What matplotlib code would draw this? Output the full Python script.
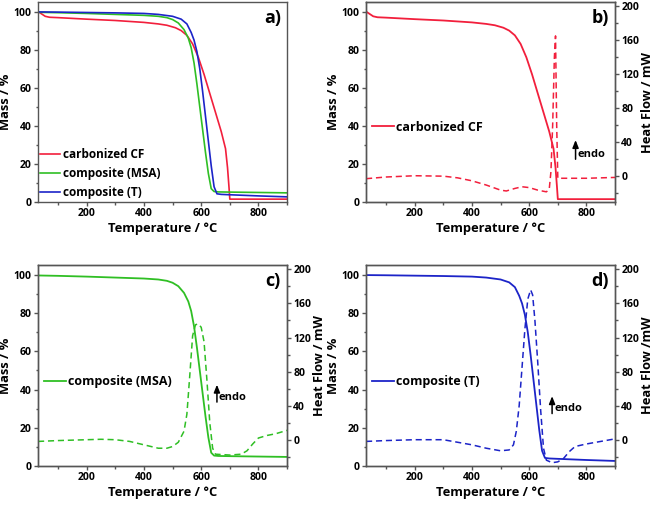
import numpy as np
import matplotlib.pyplot as plt
from matplotlib.ticker import MultipleLocator

plt.rcParams['font.family'] = ['Open Sans', 'DejaVu Sans']
plt.rcParams['font.weight'] = 'bold'

# TGA mass curves (Mass / %)
cf_T = [30, 40, 55, 70, 100, 200, 300, 400, 450, 480, 510, 530, 550, 570, 590, 610, 630, 650,
        670, 685, 692, 697, 700, 800, 900]
cf_m = [100, 99, 97.5, 97, 96.8, 96, 95.3, 94.3, 93.5, 92.8, 91.5, 90, 87.5, 83, 76, 67, 57, 47,
        37, 28, 18, 8, 1.5, 1.5, 1.5]

msa_T = [30, 100, 200, 300, 400, 450, 480, 500, 520, 540, 555, 565, 575, 585, 595, 605, 615, 625,
         635, 645, 660, 700, 800, 900]
msa_m = [99.6, 99.4, 99.0, 98.5, 98.0, 97.5, 96.8, 95.8, 94, 90.5, 86, 81, 73, 62, 50, 38, 26, 15,
         7, 5.5, 5.3, 5.2, 5.0, 4.8]

t_T = [30, 100, 200, 300, 400, 450, 500, 530, 550, 565, 575, 585, 595, 605, 615, 625, 635, 645,
       655, 670, 700, 800, 900]
t_m = [99.8, 99.7, 99.5, 99.3, 99.0, 98.5, 97.5, 96, 93.5, 89, 85, 79, 70, 58, 45, 32, 19, 8,
       4.3, 4.0, 3.8, 3.2, 2.7]

# DSC heat flow curves (Heat Flow / mW)
cf_hT = [30, 100, 200, 300, 350, 400, 450, 500, 520, 550, 575, 600, 630, 660, 670, 676, 682, 688,
         692, 696, 700, 800, 900]
cf_h = [-3.5, -1.5, 0, -0.5, -2.5, -6, -11, -17, -18, -15, -13, -14, -17, -19, -16, 5, 60, 140,
        165, 60, -3, -3, -2]

msa_hT = [30, 100, 200, 250, 300, 350, 400, 450, 480, 500, 520, 540, 550, 560, 570, 580, 590, 600,
          610, 620, 630, 640, 650, 700, 740, 760, 780, 800, 830, 860, 900]
msa_h = [-2, -1, 0, 0.5, 0, -2, -6, -10, -10, -8, -3, 10, 30, 75, 122, 135, 136, 132,
         115, 70, 20, -10, -17, -18, -17, -13, -5, 2, 5, 7, 11]

t_hT = [30, 100, 200, 300, 400, 450, 500, 530, 545, 555, 565, 575, 585, 595, 605, 612, 620, 630,
        640, 650, 660, 680, 700, 720, 740, 760, 800, 850, 900]
t_h = [-2, -1, 0, 0, -6, -10, -13, -12, -6, 10, 40, 85, 130, 165, 176, 170, 140, 90,
       35, -10, -24, -27, -26, -22, -14, -8, -5, -2, 1]

red = '#f21f3c'
green = '#2fbf24'
blue = '#1c24c8'
frame = '#555555'

fig = plt.figure(figsize=(6.56, 5.05), dpi=100)
W = 0.3796
ax_a = fig.add_axes([0.058, 0.600, W, 0.396])
ax_b = fig.add_axes([0.558, 0.600, W, 0.396])
ax_c = fig.add_axes([0.058, 0.077, W, 0.398])
ax_d = fig.add_axes([0.558, 0.077, W, 0.398])


def ticks(ax):
    ax.tick_params(which='both', direction='out', colors=frame, labelcolor='black',
                   labelsize=7.5, width=1, pad=1.5)
    ax.tick_params(which='major', length=3)
    ax.tick_params(which='minor', length=1.8)
    for s in ax.spines.values():
        s.set_color(frame)
        s.set_linewidth(1)


def style(ax):
    ax.set_xlim(30, 900)
    ax.set_ylim(0, 105)
    ax.xaxis.set_major_locator(MultipleLocator(200))
    ax.xaxis.set_minor_locator(MultipleLocator(100))
    ax.yaxis.set_major_locator(MultipleLocator(20))
    ax.yaxis.set_minor_locator(MultipleLocator(10))
    ticks(ax)
    ax.set_xlabel('Temperature / °C', fontsize=9.3, fontweight='bold', labelpad=2)
    ax.set_ylabel('Mass / %', fontsize=9.3, fontweight='bold', labelpad=1)


def twin(ax, label):
    ax2 = ax.twinx()
    ax2.set_ylim(-31, 205)
    ax2.yaxis.set_major_locator(MultipleLocator(40))
    ax2.yaxis.set_minor_locator(MultipleLocator(20))
    ticks(ax2)
    ax2.set_ylabel(label, fontsize=9.3, fontweight='bold', labelpad=1)
    return ax2


def endo(ax, x, y0, y1):
    ax.annotate('', xy=(x, y1), xytext=(x, y0),
                arrowprops=dict(arrowstyle='-|>,head_width=0.18,head_length=0.45',
                                color='black', lw=1.1))
    ax.text(x + 7, y0 + 1, 'endo', fontsize=8, fontweight='bold', va='bottom', ha='left')


def panel_label(ax, s):
    ax.text(0.975, 0.965, s, transform=ax.transAxes, fontsize=13, fontweight='bold',
            ha='right', va='top')


# a)
style(ax_a)
ax_a.plot(cf_T, cf_m, color=red, lw=1.2, label='carbonized CF')
ax_a.plot(msa_T, msa_m, color=green, lw=1.2, label='composite (MSA)')
ax_a.plot(t_T, t_m, color=blue, lw=1.2, label='composite (T)')
ax_a.legend(loc='lower left', frameon=False, fontsize=8.5, handlelength=1.7,
            handletextpad=0.25, labelspacing=0.5, borderaxespad=0,
            bbox_to_anchor=(-0.01, -0.01))
panel_label(ax_a, 'a)')

# b)
style(ax_b)
ax_b.plot(cf_T, cf_m, color=red, lw=1.3, label='carbonized CF')
ax_b2 = twin(ax_b, 'Heat Flow / mW')
ax_b2.plot(cf_hT, cf_h, color=red, lw=1.1, ls=(0, (4, 2.5)))
ax_b.legend(loc='center left', frameon=False, fontsize=9, handlelength=1.7,
            handletextpad=0.2, borderaxespad=0, bbox_to_anchor=(0.005, 0.375))
endo(ax_b, 762, 21, 34)
panel_label(ax_b, 'b)')

# c)
style(ax_c)
ax_c.plot(msa_T, msa_m, color=green, lw=1.3, label='composite (MSA)')
ax_c2 = twin(ax_c, 'Heat Flow / mW')
ax_c2.plot(msa_hT, msa_h, color=green, lw=1.1, ls=(0, (4, 2.5)))
ax_c.legend(loc='center left', frameon=False, fontsize=9, handlelength=1.7,
            handletextpad=0.2, borderaxespad=0, bbox_to_anchor=(0.005, 0.42))
endo(ax_c, 655, 32, 44)
panel_label(ax_c, 'c)')

# d)
style(ax_d)
ax_d.plot(t_T, t_m, color=blue, lw=1.3, label='composite (T)')
ax_d2 = twin(ax_d, 'Heat Flow /mW')
ax_d2.plot(t_hT, t_h, color=blue, lw=1.1, ls=(0, (4, 2.5)))
ax_d.legend(loc='center left', frameon=False, fontsize=9, handlelength=1.7,
            handletextpad=0.2, borderaxespad=0, bbox_to_anchor=(0.005, 0.42))
endo(ax_d, 680, 26, 38)
panel_label(ax_d, 'd)')

fig.savefig('out.png', dpi=100)
